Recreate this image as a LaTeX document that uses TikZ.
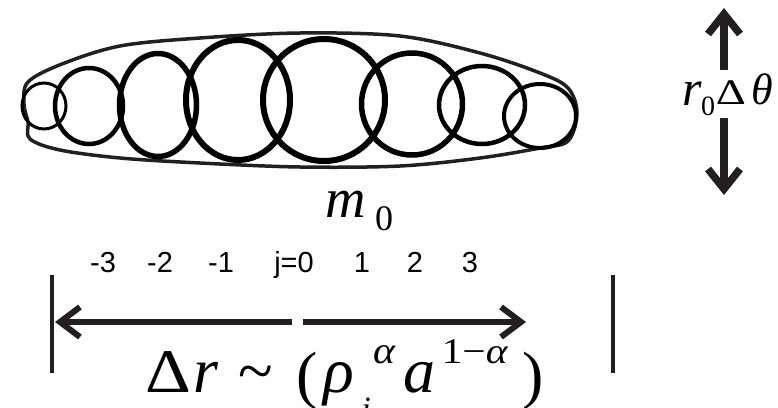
\documentclass[tikz,border=0pt]{standalone}
\usepackage{fontspec}
\setmainfont{Liberation Serif}
\newfontfamily\arialf{Liberation Sans}
\usetikzlibrary{arrows.meta}
\definecolor{ink}{HTML}{231F20}
\tikzset{
  ring/.style={draw=black, line width=#1},
  env/.style={draw=ink, line width=3.5pt, line join=round},
  bar/.style={draw=ink, line width=3.8pt},
  harrow/.style={draw=ink, line width=6pt, -{Straight Barb[length=20pt,width=30pt]}},
  varrow/.style={draw=ink, line width=7.5pt, -{Straight Barb[length=20pt,width=32pt]}},
  txt/.style={inner sep=0pt, outer sep=0pt, anchor=base},
  jlab/.style={txt, font=\arialf\fontsize{29}{29}\selectfont},
}
\begin{document}
\begin{tikzpicture}[x=1pt,y=-1pt]
\useasboundingbox (0,0) rectangle (778,407);
\clip (0,0) rectangle (778,407);
% envelope
\draw[env] plot[smooth cycle, tension=0.55] coordinates {
  (28,82) (62,64) (120,46) (200,38) (300,33) (400,36) (480,53) (540,73) (568,88)
  (577,113) (568,141) (540,148) (480,158) (400,166) (300,167) (200,163) (120,158) (60,150) (30,139)
  (28,122) (24,104)};
% rings
\draw[ring=3pt] (44,106) ellipse [x radius=22, y radius=23];
\draw[ring=4.5pt] (89,106) ellipse [x radius=34, y radius=38];
\draw[ring=5.5pt] (158,105) ellipse [x radius=38.5, y radius=51.5];
\draw[ring=6pt] (238,100) ellipse [x radius=52, y radius=60];
\draw[ring=6pt] (324,100) ellipse [x radius=61, y radius=61];
\draw[ring=5.5pt] (412,104) ellipse [x radius=50.5, y radius=51];
\draw[ring=4.5pt] (482,105) ellipse [x radius=43, y radius=39];
\draw[ring=4pt] (540,116) ellipse [x radius=36, y radius=32];
% vertical arrows and label
\coordinate (us) at (724,70);
\coordinate (ut) at (724,8);
\coordinate (ds) at (724,118);
\coordinate (dt) at (724,195);
\draw[varrow] (us) -- (ut);
\draw[varrow] (ds) -- (dt);
\node[txt, font=\itshape\fontsize{50}{50}\selectfont] (lr) at (692,105) {r};
\node[txt, font=\fontsize{28}{28}\selectfont] (l0) at (708,115) {0};
\node[txt, font=\fontsize{36}{36}\selectfont, xscale=1.3] (ld) at (731,104) {Δ};
\node[txt, font=\itshape\fontsize{44}{44}\selectfont] (lt) at (762,104) {θ};
% m0
\node[txt, font=\itshape\fontsize{56}{56}\selectfont] (m) at (346,217) {m};
\node[txt, font=\fontsize{36}{36}\selectfont] (m0) at (384,230) {0};
% j labels
\node[jlab] (jm3) at (103,272) {-3};
\node[jlab] (jm2) at (160,272) {-2};
\node[jlab] (jm1) at (221,272) {-1};
\node[jlab] (j0) at (294,272) {j=0};
\node[jlab] (j1) at (362,272) {1};
\node[jlab] (j2) at (415,272) {2};
\node[jlab] (j3) at (470,272) {3};
% bars and arrows
\coordinate (lb1) at (52,275); \coordinate (lb2) at (52,373);
\coordinate (rb1) at (613,275); \coordinate (rb2) at (613,373);
\draw[bar] (lb1) -- (lb2);
\draw[bar] (rb1) -- (rb2);
\coordinate (la) at (292,322); \coordinate (lat) at (55,322);
\coordinate (ra) at (303,322); \coordinate (rat) at (526,322);
\draw[harrow] (la) -- (lat);
\draw[harrow] (ra) -- (rat);
% formula
\node[txt, font=\fontsize{62}{62}\selectfont, xscale=1.15] (fD) at (168,392) {Δ};
\node[txt, font=\itshape\fontsize{64}{64}\selectfont] (fr) at (206,392) {r};
\node[txt, font=\fontsize{64}{64}\selectfont] (ft) at (256,392) {\char"007E};
\node[txt, font=\fontsize{64}{64}\selectfont] (fp) at (307,396) {(};
\node[txt, font=\itshape\fontsize{64}{64}\selectfont] (frho) at (339,392) {ρ};
\node[txt, font=\itshape\fontsize{34}{34}\selectfont] (fi) at (366,420) {i};
\node[txt, font=\itshape\fontsize{38}{38}\selectfont, xscale=1.1] (fa1) at (384,363) {α};
\node[txt, font=\itshape\fontsize{64}{64}\selectfont] (fa) at (419,392) {a};
\node[txt, font=\fontsize{36}{36}\selectfont, xscale=1.15] (fe) at (475,363) {1−\textit{α}};
\node[txt, font=\fontsize{64}{64}\selectfont] (fq) at (533,396) {)};
\end{tikzpicture}
\end{document}
